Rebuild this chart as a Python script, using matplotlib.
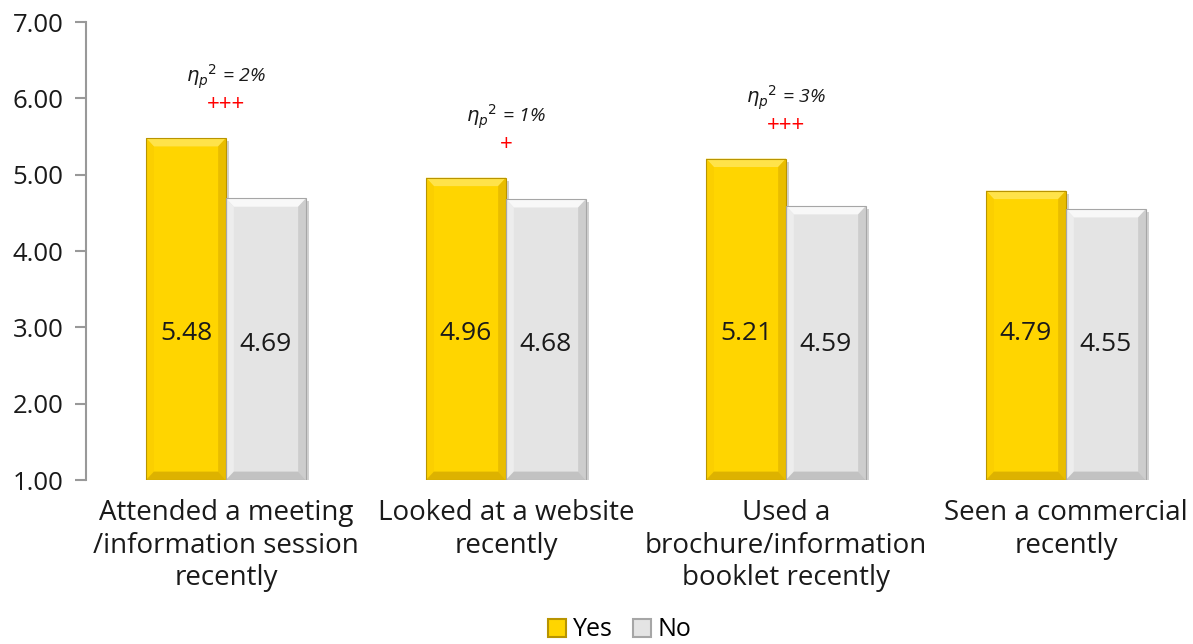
import matplotlib.pyplot as plt
from matplotlib.patches import Polygon, Patch
import numpy as np

categories = [
    "Attended a meeting\n/information session\nrecently",
    "Looked at a website\nrecently",
    "Used a\nbrochure/information\nbooklet recently",
    "Seen a commercial\nrecently",
]
yes_means = [5.48, 4.96, 5.21, 4.79]
no_means = [4.69, 4.68, 4.59, 4.55]
eta_sq = ["2%", "1%", "3%", None]
signif = ["+++", "+", "+++", ""]

plt.rcParams['font.family'] = ['Open Sans', 'DejaVu Sans']

# colour sets: face, top, left, right, bottom, outline
YELLOW = ("#FFD500", "#FFE34A", "#FBCF00", "#E9BD00", "#DDB200", "#B89400")
GREY = ("#E4E4E4", "#F8F8F8", "#EDEDED", "#CDCDCD", "#C2C2C2", "#A6A6A6")


def bevel_bar(ax, x0, w, top, base, cols):
    face, c_top, c_left, c_right, c_bot, c_edge = cols
    bx, by = 0.028, 0.11
    x1 = x0 + w
    # drop shadow
    ax.add_patch(Polygon([(x0 + 0.012, base - 0.04), (x1 + 0.012, base - 0.04),
                          (x1 + 0.012, top - 0.04), (x1, top - 0.04), (x1, base), (x0 + 0.012, base)],
                         closed=True, fc="#9a9a9a", ec="none", alpha=0.45, zorder=1))
    ax.add_patch(Polygon([(x0, top), (x1, top), (x1 - bx, top - by), (x0 + bx, top - by)],
                         closed=True, fc=c_top, ec="none", zorder=3))
    ax.add_patch(Polygon([(x0, base), (x0, top), (x0 + bx, top - by), (x0 + bx, base + by)],
                         closed=True, fc=c_left, ec="none", zorder=3))
    ax.add_patch(Polygon([(x1, base), (x1, top), (x1 - bx, top - by), (x1 - bx, base + by)],
                         closed=True, fc=c_right, ec="none", zorder=3))
    ax.add_patch(Polygon([(x0, base), (x1, base), (x1 - bx, base + by), (x0 + bx, base + by)],
                         closed=True, fc=c_bot, ec="none", zorder=3))
    ax.add_patch(Polygon([(x0, base), (x0, top), (x1, top), (x1, base)],
                         closed=True, fc="none", ec=c_edge, lw=0.8, zorder=4))


fig = plt.figure(figsize=(11.93, 6.44), dpi=100)
ax = fig.add_axes([86 / 1193, 164 / 644, 1 - 86 / 1193, 458 / 644])

x = np.arange(len(categories))
w = 80 / 280
base = 1.0

bars_yes = ax.bar(x - w / 2, np.array(yes_means) - base, w, bottom=base, color=YELLOW[0], zorder=2)
bars_no = ax.bar(x + w / 2, np.array(no_means) - base, w, bottom=base, color=GREY[0], zorder=2)

# value labels sit at roughly the same height in every bar
for bars, vals, cols, label_y in ((bars_yes, yes_means, YELLOW, 2.92), (bars_no, no_means, GREY, 2.78)):
    for b, v in zip(bars, vals):
        bevel_bar(ax, b.get_x(), b.get_width(), v, base, cols)
        ax.text(b.get_x() + b.get_width() / 2, label_y, f"{v:.2f}",
                ha="center", va="center", fontsize=19, color="#1a1a1a", zorder=5)

for i, (e, s) in enumerate(zip(eta_sq, signif)):
    if e is None:
        continue
    top = max(yes_means[i], no_means[i])
    ax.text(x[i], top + 0.8, r"$\eta_p{}^2$ = " + e, ha="center", va="center",
            fontsize=14, style="italic", color="#1a1a1a")
    ax.text(x[i], top + 0.44, s, ha="center", va="center", fontsize=16, color="#FF0000")

ax.set_ylim(1, 7)
ax.set_xlim(-0.5, (1193 - 86) / 280 - 0.5)
ax.set_yticks(np.arange(1, 8))
ax.set_yticklabels([f"{t:.2f}" for t in np.arange(1, 8)], fontsize=18.5, color="#1a1a1a")
ax.set_xticks(x)
ax.set_xticklabels(categories, fontsize=20, color="#1a1a1a", linespacing=1.2)
ax.tick_params(axis="x", length=0, pad=14)
ax.tick_params(axis="y", length=8, width=1.5, color="#999999", pad=8)

for sp in ("top", "right", "bottom"):
    ax.spines[sp].set_visible(False)
ax.spines["left"].set_color("#999999")
ax.spines["left"].set_linewidth(1.5)

handles = [Patch(fc=YELLOW[0], ec=YELLOW[5], lw=1.5), Patch(fc=GREY[0], ec=GREY[5], lw=1.5)]
fig.legend(handles, ["Yes", "No"], loc="center", bbox_to_anchor=(620 / 1193, 1 - 630 / 644),
           ncol=2, frameon=False, fontsize=18, handlelength=0.7, handleheight=0.7,
           handletextpad=0.3, columnspacing=0.8, borderaxespad=0)

fig.savefig("out.png", dpi=100)
